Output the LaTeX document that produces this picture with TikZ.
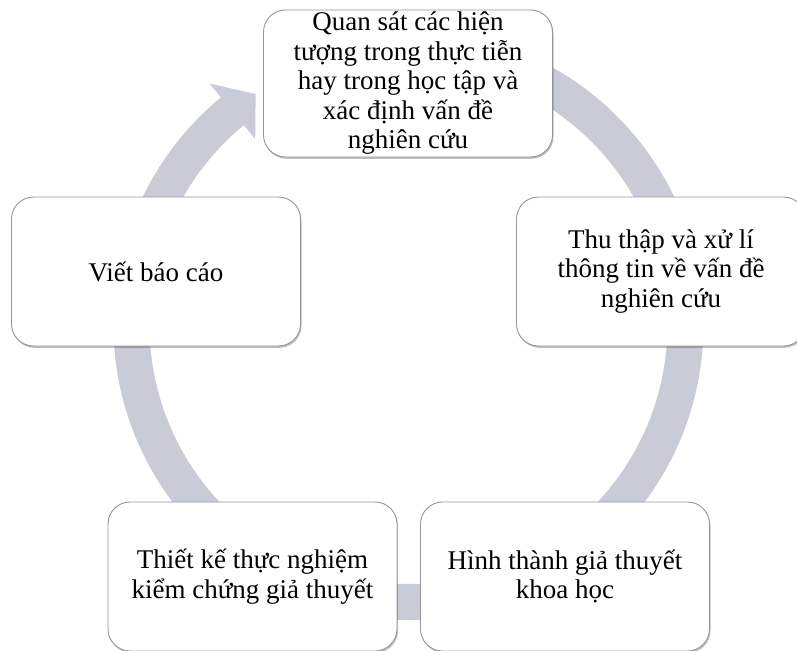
\documentclass[tikz,border=0pt]{standalone}
\usepackage{fontspec}
\setmainfont{Liberation Serif}
\usetikzlibrary{shadows}
\definecolor{ringgray}{RGB}{201,204,214}
\definecolor{boxline}{RGB}{150,150,150}
\begin{document}
\begin{tikzpicture}[x=1pt,y=-1pt,
  stepbox/.style={draw=boxline, line width=0.9pt, fill=white, rounded corners=22pt,
    minimum width=289pt, minimum height=149pt, align=center, inner sep=0pt,
    font=\fontsize{27}{29.5}\selectfont,
    drop shadow={shadow xshift=1pt, shadow yshift=-1.8pt, opacity=0.25, fill=black}}]
\useasboundingbox (0,0) rectangle (797,650);
\clip (0,0) rectangle (797,650);
\begin{scope}[shift={(408.5,325)}]
  \fill[ringgray] (-80:295) arc[start angle=-80, end angle=230.5, radius=295]
    -- (230.5:313) -- (236.5:277) -- (230.5:241) -- (230.5:259)
    arc[start angle=230.5, end angle=-80, radius=259] -- cycle;
\end{scope}
\node[stepbox, minimum height=147pt] (n1) at (408,83.5) {Quan sát các hiện\\tượng trong thực tiễn\\hay trong học tập và\\xác định vấn đề\\nghiên cứu};
\node[stepbox] (n2) at (661,271.5) {Thu thập và xử lí\\thông tin về vấn đề\\nghiên cứu};
\node[stepbox] (n3) at (565,576.5) {Hình thành giả thuyết\\khoa học};
\node[stepbox] (n4) at (252.5,576.5) {Thiết kế thực nghiệm\\kiểm chứng giả thuyết};
\node[stepbox] (n5) at (156,271.5) {Viết báo cáo};
\end{tikzpicture}
\end{document}
